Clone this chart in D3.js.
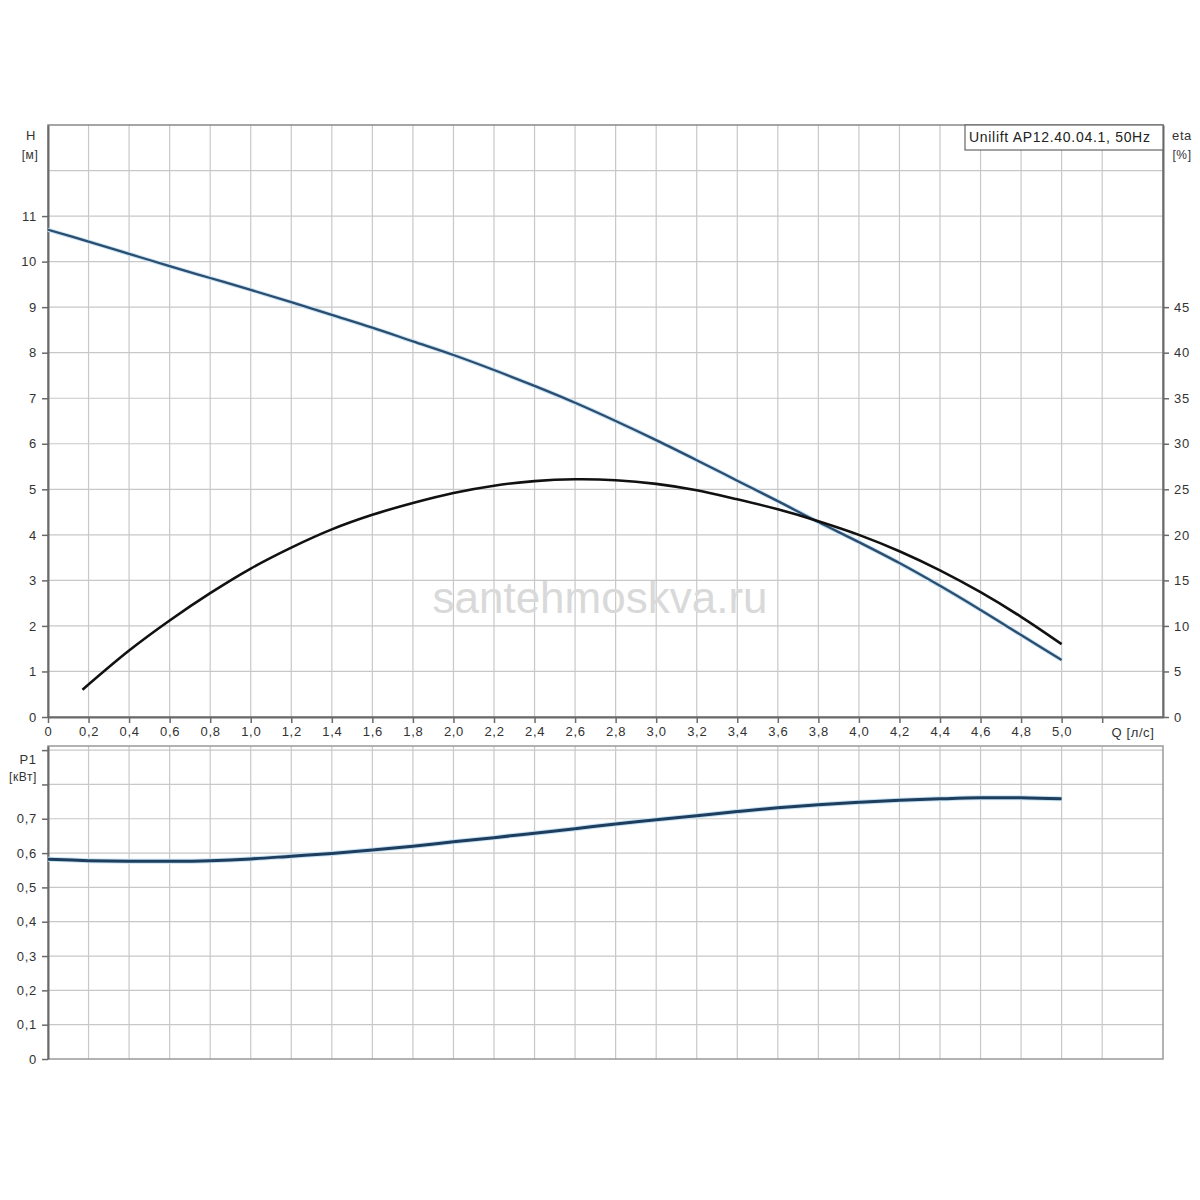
<!DOCTYPE html>
<html>
<head>
<meta charset="utf-8">
<script src="https://cdn.jsdelivr.net/npm/d3@7"></script>
<style>
  body { margin: 0; background: #fff; }
  text { font-family: "Liberation Sans", Arial, sans-serif; }
</style>
</head>
<body>
<div id="chart"></div>
<script>
// flow points, l/s
const flow = [0, 0.2, 0.4, 0.6, 0.8, 1.0, 1.2, 1.4, 1.6, 1.8, 2.0, 2.2, 2.4, 2.6,
    2.8, 3.0, 3.2, 3.4, 3.6, 3.8, 4.0, 4.2, 4.4, 4.6, 4.8, 5.0];

// head, m
const head = [10.70, 10.44, 10.17, 9.90, 9.64, 9.38, 9.11, 8.83, 8.55, 8.25, 7.95,
    7.62, 7.27, 6.90, 6.50, 6.08, 5.64, 5.19, 4.74, 4.28, 3.84, 3.38, 2.88, 2.35, 1.80, 1.25];

// efficiency, % (curve starts at 0.17 l/s)
const etaFlow = [0.17, 0.4, 0.6, 0.8, 1.0, 1.2, 1.4, 1.6, 1.8, 2.0, 2.2, 2.4, 2.6,
    2.8, 3.0, 3.2, 3.4, 3.6, 3.8, 4.0, 4.2, 4.4, 4.6, 4.8, 5.0];
const eta = [3.0, 7.3, 10.6, 13.6, 16.3, 18.6, 20.6, 22.2, 23.5, 24.6, 25.4, 25.9, 26.1,
    26.0, 25.6, 24.9, 23.9, 22.8, 21.5, 20.0, 18.2, 16.1, 13.7, 11.0, 8.0];

// power input, kW
const power = [0.582, 0.578, 0.576, 0.576, 0.578, 0.583, 0.591, 0.599, 0.609, 0.620, 0.633,
    0.645, 0.658, 0.671, 0.685, 0.697, 0.709, 0.721, 0.732, 0.741, 0.748, 0.754, 0.758,
    0.761, 0.761, 0.758];

// axis ticks
const qTicks = d3.range(0, 27).map(i => +(i * 0.2).toFixed(1));
const qLabels = qTicks.filter(d => d <= 5.0);
const hTicks = d3.range(0, 13);
const hLabels = d3.range(0, 12);
const etaLabels = [0, 5, 10, 15, 20, 25, 30, 35, 40, 45];
const pTicks = d3.range(0, 10).map(i => +(i * 0.1).toFixed(1));
const pLabels = pTicks.filter(d => d <= 0.7);

const title = 'Unilift AP12.40.04.1, 50Hz';

const W = 1200, H = 1200;
const left = 48, right = 1163;
const top1 = 125, bottom1 = 717;
const top2 = 746, bottom2 = 1059;

const svg = d3.select('#chart').append('svg')
    .attr('width', W)
    .attr('height', H);

svg.append('rect').attr('width', W).attr('height', H).attr('fill', '#fff');

const comma = d => d === 0 ? '0' : d3.format('.1f')(d).replace('.', ',');

const x = d3.scaleLinear().domain([0, 5.5]).range([left, right]);
const yH = d3.scaleLinear().domain([0, 13]).range([bottom1, top1]);
const yEta = d3.scaleLinear().domain([0, 65]).range([bottom1, top1]);
const yP = d3.scaleLinear().domain([0, 0.912]).range([bottom2, top2]);

const gridColor = '#c8c8c8';
const axisColor = '#6a6a6a';
const labelColor = '#333';

function grid(yScale, yTicks, y0, y1) {
    const g = svg.append('g');
    g.selectAll('line.v')
        .data(qTicks.filter(d => d > 0))
        .enter().append('line')
        .attr('x1', d => x(d)).attr('x2', d => x(d))
        .attr('y1', y0).attr('y2', y1)
        .attr('stroke', gridColor).attr('stroke-width', 1.2);
    g.selectAll('line.h')
        .data(yTicks.filter(d => d > 0))
        .enter().append('line')
        .attr('x1', left).attr('x2', right)
        .attr('y1', d => yScale(d)).attr('y2', d => yScale(d))
        .attr('stroke', gridColor).attr('stroke-width', 1.2);
}

function styleAxis(g, fmtLabels) {
    g.select('.domain').attr('stroke', axisColor).attr('stroke-width', 2);
    g.selectAll('.tick line').attr('stroke', axisColor).attr('stroke-width', 1.5);
    g.selectAll('.tick text')
        .attr('fill', labelColor)
        .style('font-size', '13px')
        .style('letter-spacing', '0.7px')
        .style('font-family', '"Liberation Sans", Arial, sans-serif')
        .text(d => fmtLabels.includes(d) ? comma(d) : '');
}

// ---------- top chart ----------
grid(yH, hTicks, top1, bottom1);

// frame
svg.append('rect')
    .attr('x', left).attr('y', top1)
    .attr('width', right - left).attr('height', bottom1 - top1)
    .attr('fill', 'none').attr('stroke', '#888').attr('stroke-width', 1.5);

const axH = svg.append('g')
    .attr('transform', 'translate(' + left + ',0)')
    .call(d3.axisLeft(yH).tickValues(hLabels).tickSize(6).tickPadding(5).tickSizeOuter(0));
styleAxis(axH, hLabels);
axH.selectAll('.tick text').text(d => d);

const axEta = svg.append('g')
    .attr('transform', 'translate(' + right + ',0)')
    .call(d3.axisRight(yEta).tickValues(etaLabels).tickSize(6).tickPadding(5).tickSizeOuter(0));
styleAxis(axEta, etaLabels);
axEta.selectAll('.tick text').text(d => d);

const axQ = svg.append('g')
    .attr('transform', 'translate(0,' + bottom1 + ')')
    .call(d3.axisBottom(x).tickValues(qTicks).tickSize(6).tickPadding(4).tickSizeOuter(0));
styleAxis(axQ, qLabels);

// axis titles
function label(px, py, txt, size) {
    svg.append('text').attr('x', px).attr('y', py).attr('text-anchor', 'middle')
        .style('font-size', size + 'px').style('letter-spacing', '0.6px')
        .attr('fill', labelColor).text(txt);
}
label(31, 140, 'H', 13);
label(30, 159, '[м]', 12);
label(1182, 140, 'eta', 13);
label(1182, 159, '[%]', 12);
label(1133, 737, 'Q [л/с]', 13);

// title box
svg.append('rect')
    .attr('x', 965).attr('y', top1)
    .attr('width', right - 965).attr('height', 25)
    .attr('fill', '#fff').attr('stroke', '#666').attr('stroke-width', 1.2);
svg.append('text').attr('x', 969).attr('y', 142)
    .style('font-size', '14px').style('letter-spacing', '0.7px')
    .attr('fill', '#222').text(title);

// watermark
svg.append('text').attr('x', 600).attr('y', 613).attr('text-anchor', 'middle')
    .style('font-size', '44px').attr('fill', '#d9d9d9').text('santehmoskva.ru');

const lineH = d3.line()
    .x((d, i) => x(flow[i]))
    .y(d => yH(d))
    .curve(d3.curveCatmullRom.alpha(0.5));

svg.append('path').datum(head)
    .attr('d', lineH)
    .attr('fill', 'none').attr('stroke', '#c4e2f5').attr('stroke-width', 4.2);
svg.append('path').datum(head)
    .attr('d', lineH)
    .attr('fill', 'none').attr('stroke', '#2d4d6e').attr('stroke-width', 2.3);

const lineEta = d3.line()
    .x((d, i) => x(etaFlow[i]))
    .y(d => yEta(d))
    .curve(d3.curveCatmullRom.alpha(0.5));

svg.append('path').datum(eta)
    .attr('d', lineEta)
    .attr('fill', 'none').attr('stroke', '#111').attr('stroke-width', 2.6);

// ---------- bottom chart ----------
grid(yP, pTicks, top2, bottom2);

svg.append('rect')
    .attr('x', left).attr('y', top2)
    .attr('width', right - left).attr('height', bottom2 - top2)
    .attr('fill', 'none').attr('stroke', '#999').attr('stroke-width', 1.5);

const axP = svg.append('g')
    .attr('transform', 'translate(' + left + ',0)')
    .call(d3.axisLeft(yP).tickValues(pTicks).tickSize(6).tickPadding(5).tickSizeOuter(0));
styleAxis(axP, pLabels);

label(28, 764, 'P1', 13);
label(23, 781, '[кВт]', 12);

const lineP = d3.line()
    .x((d, i) => x(flow[i]))
    .y(d => yP(d))
    .curve(d3.curveCatmullRom.alpha(0.5));

svg.append('path').datum(power)
    .attr('d', lineP)
    .attr('fill', 'none').attr('stroke', '#c4e2f5').attr('stroke-width', 5);
svg.append('path').datum(power)
    .attr('d', lineP)
    .attr('fill', 'none').attr('stroke', '#1f3d5c').attr('stroke-width', 3);
</script>
</body>
</html>
